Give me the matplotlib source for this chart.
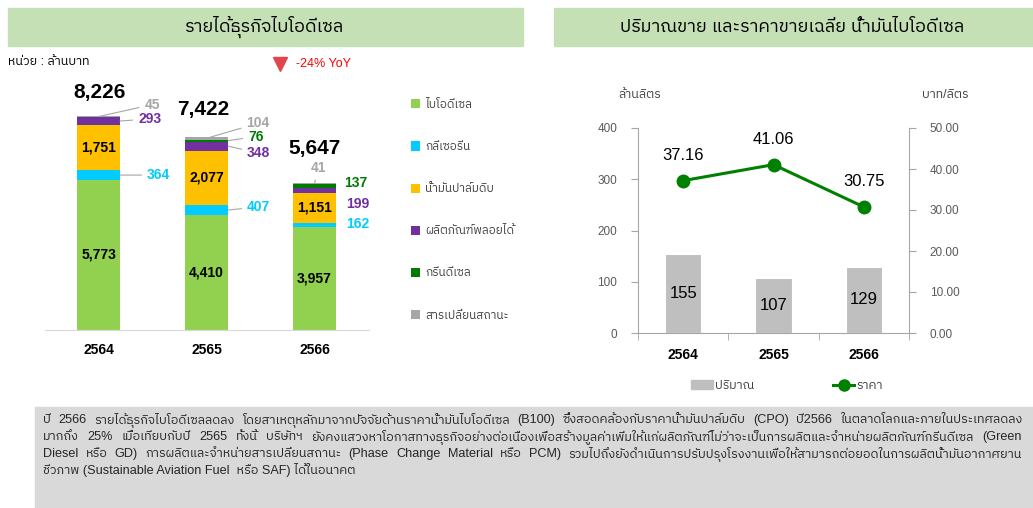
import matplotlib
matplotlib.use('Agg')
import matplotlib.pyplot as plt
from matplotlib import font_manager
from matplotlib.ft2font import FT2Font
from matplotlib.patches import Rectangle, Patch
from matplotlib.lines import Line2D
import numpy as np

W, H = 1033, 508

# ---- data ----
years = ['2564', '2565', '2566']
series_names = ['ไบโอดีเซล', 'กลีเซอรีน', 'น้ำมันปาล์มดิบ', 'ผลิตภัณฑ์พลอยได้', 'กรีนดีเซล', 'สารเปลี่ยนสถานะ']
series_colors = ['#92D050', '#00CCFF', '#FFC000', '#7030A0', '#007A00', '#A6A6A6']
biodiesel = [5773, 4410, 3957]
glycerin = [364, 407, 162]
palm_oil = [1751, 2077, 1151]
byproduct = [293, 348, 199]
green_diesel = [0, 76, 137]
pcm = [45, 104, 41]
totals = [8226, 7422, 5647]

volume = [155, 107, 129]
price = [37.16, 41.06, 30.75]

note_lines = [
    'ปี 2566 รายได้ธุรกิจไบโอดีเซลลดลง โดยสาเหตุหลักมาจากปัจจัยด้านราคาน้ำมันไบโอดีเซล (B100) ซึ่งสอดคล้องกับราคาน้ำมันปาล์มดิบ (CPO) ปี2566 ในตลาดโลกและภายในประเทศลดลง',
    'มากถึง 25% เมื่อเทียบกับปี 2565 ทั้งนี้ บริษัทฯ ยังคงแสวงหาโอกาสทางธุรกิจอย่างต่อเนื่องเพื่อสร้างมูลค่าเพิ่มให้แก่ผลิตภัณฑ์ไม่ว่าจะเป็นการผลิตและจำหน่ายผลิตภัณฑ์กรีนดีเซล (Green',
    'Diesel หรือ GD) การผลิตและจำหน่ายสารเปลี่ยนสถานะ (Phase Change Material หรือ PCM) รวมไปถึงยังดำเนินการปรับปรุงโรงงานเพื่อให้สามารถต่อยอดในการผลิตน้ำมันอากาศยาน',
    'ชีวภาพ (Sustainable Aviation Fuel  หรือ SAF) ได้ในอนาคต',
]


# find an installed family that has Thai glyphs
def find_thai_family():
    fonts = sorted(font_manager.fontManager.ttflist, key=lambda f: 'Thai' not in f.name)
    for f in fonts:
        if 'CJK' in f.name:
            continue
        try:
            cmap = FT2Font(f.fname).get_charmap()
        except Exception:
            continue
        if 0x0E01 in cmap and 0x0E49 in cmap:
            return f.name
    return None


thai = find_thai_family()
families = ['Liberation Sans'] + ([thai] if thai else []) + ['DejaVu Sans']
plt.rcParams['font.family'] = families

fig = plt.figure(figsize=(W / 100, H / 100), dpi=100)


def fx(px):
    return px / W


def fy(py):
    return 1 - py / H


# title bands and note box
fig.add_artist(Rectangle((fx(8), fy(46)), fx(515), 38 / H, transform=fig.transFigure,
                         color='#C5E0B4', zorder=0))
fig.add_artist(Rectangle((fx(554), fy(46)), fx(479), 38 / H, transform=fig.transFigure,
                         color='#C5E0B4', zorder=0))
fig.add_artist(Rectangle((fx(35), 0), fx(998), 101 / H, transform=fig.transFigure,
                         color='#D9D9D9', zorder=0))
fig.text(fx(265), fy(27), 'รายได้ธุรกิจไบโอดีเซล', ha='center', va='center', fontsize=13)
fig.text(fx(792), fy(27), 'ปริมาณขาย และราคาขายเฉลี่ย น้ำมันไบโอดีเซล', ha='center', va='center', fontsize=13)

fig.text(fx(8), fy(62), 'หน่วย : ล้านบาท', ha='left', va='center', fontsize=9)
fig.add_artist(Line2D([fx(280)], [fy(64)], marker='v', ms=10, color='#E0474C',
                      transform=fig.transFigure, linestyle='none'))
fig.text(fx(296), fy(64), '-24% YoY', ha='left', va='center', fontsize=9, color='#FF0000')

# ---- left: stacked bars ----
ax1 = fig.add_axes([fx(44.5), fy(330), fx(324), 250 / H])
x = np.arange(len(years))
bw = 0.4
stack = [biodiesel, glycerin, palm_oil, byproduct, green_diesel, pcm]
bottom = np.zeros(len(years))
bottoms = []
handles = []
for vals, name, col in zip(stack, series_names, series_colors):
    bottoms.append(bottom.copy())
    b = ax1.bar(x, vals, bw, bottom=bottom, color=col, linewidth=0, label=name)
    handles.append(b)
    bottom += np.array(vals)

ax1.set_xlim(-0.5, 2.5)
ax1.set_ylim(0, 9610)
ax1.set_yticks([])
for s in ['top', 'left', 'right']:
    ax1.spines[s].set_visible(False)
ax1.spines['bottom'].set_color('#D9D9D9')
ax1.set_xticks(x, years, fontweight='bold', fontsize=10)
ax1.tick_params(axis='x', length=0, pad=9)

# values inside the bars
for k in [0, 2]:
    for i in range(3):
        v = stack[k][i]
        ax1.text(x[i], bottoms[k][i] + v / 2, f'{v:,}', ha='center', va='center',
                 fontsize=10, fontweight='bold', color='black')

# outside labels: (series, year, dx px, dy px, from centre?, leader?, ha)
outside = [
    (1, 0, 27, 0, False, True, 'left'),
    (3, 0, 18, -2, False, True, 'left'),
    (5, 0, 46, -12, True, True, 'left'),
    (1, 1, 19, -3, False, True, 'left'),
    (3, 1, 19, 7, False, True, 'left'),
    (4, 1, 20, -4, False, True, 'left'),
    (5, 1, 40, -15, True, True, 'left'),
    (1, 2, 10, -1, False, False, 'left'),
    (3, 2, 10, 14, False, False, 'left'),
    (4, 2, 8, -3, False, False, 'left'),
    (5, 2, 4, -16, True, True, 'center'),
]
for k, i, dx, dy, centre, leader, ha in outside:
    v = stack[k][i]
    ax_x = x[i] if centre else x[i] + bw / 2
    ax_y = bottoms[k][i] + v / 2
    ap = dict(arrowstyle='-', color='#A6A6A6', lw=0.8, shrinkA=2, shrinkB=0) if leader else None
    ax1.annotate(f'{v:,}', (ax_x, ax_y), xytext=(dx * 0.72, -dy * 0.72), textcoords='offset points',
                 ha=ha, va='center', fontsize=10, fontweight='bold', color=series_colors[k],
                 arrowprops=ap)

total_dy = [24, 27, 35]
total_dx = [1, -3, 0]
for i in range(3):
    ax1.annotate(f'{totals[i]:,}', (x[i], totals[i]), xytext=(total_dx[i] * 0.72, total_dy[i] * 0.72),
                 textcoords='offset points', ha='center', va='center', fontsize=15, fontweight='bold')

ax1.legend(handles, series_names, loc='upper left', bbox_to_anchor=(fx(411), fy(99)),
           bbox_transform=fig.transFigure, frameon=False, fontsize=8.5, handlelength=0.8,
           handleheight=0.8, handletextpad=0.4, labelspacing=2.55, borderpad=0, borderaxespad=0,
           labelcolor='#404040')

# ---- right: volume bars + price line ----
ax2 = fig.add_axes([fx(638), fy(333), fx(271), 205 / H])
ax2.bar(x, volume, bw, color='#BFBFBF', edgecolor='white', linewidth=0.8)
ax2.set_xlim(-0.5, 2.5)
ax2.set_ylim(0, 400)
ax2.set_yticks([0, 100, 200, 300, 400])
ax2.set_xticks(x, years, fontweight='bold', fontsize=10)
ax2.set_xticks([-0.5, 0.5, 1.5, 2.5], minor=True)
ax2.tick_params(axis='x', which='major', length=0, pad=11)
ax2.tick_params(axis='x', which='minor', length=5, color='#A6A6A6')
ax2.tick_params(axis='y', length=5, color='#A6A6A6', labelcolor='#595959', labelsize=8.5, pad=10)
ax2.spines['top'].set_visible(False)
ax2.spines['right'].set_visible(False)
for s in ['left', 'bottom']:
    ax2.spines[s].set_color('#A6A6A6')
for i in range(3):
    ax2.text(x[i], volume[i] / 2, str(volume[i]), ha='center', va='center', fontsize=12)

ax3 = ax2.twinx()
ax3.plot(x, price, color='#008000', lw=2.2, marker='o', ms=9)
ax3.set_ylim(0, 50)
ax3.set_yticks([0, 10, 20, 30, 40, 50], [f'{v:.2f}' for v in [0, 10, 20, 30, 40, 50]])
ax3.tick_params(axis='y', length=5, color='#A6A6A6', labelcolor='#595959', labelsize=8.5, pad=10)
for s in ['top', 'left', 'bottom']:
    ax3.spines[s].set_visible(False)
ax3.spines['right'].set_color('#A6A6A6')
for i in range(3):
    ax3.annotate(f'{price[i]:.2f}', (x[i], price[i]), xytext=(0, 18), textcoords='offset points',
                 ha='center', va='center', fontsize=12)

fig.text(fx(640), fy(95), 'ล้านลิตร', ha='center', va='center', fontsize=9, color='#404040')
fig.text(fx(945), fy(95), 'บาท/ลิตร', ha='center', va='center', fontsize=9, color='#404040')

leg_handles = [Patch(color='#BFBFBF'),
               Line2D([], [], color='#008000', lw=2.2, marker='o', ms=8)]
fig.legend(leg_handles, ['ปริมาณ', 'ราคา'], loc='center left', bbox_to_anchor=(fx(680), fy(386)),
           ncol=2, frameon=False, fontsize=9, handlelength=1.7, handletextpad=0.2,
           columnspacing=6.3, labelcolor='#404040')

# ---- note paragraph, justified ----
renderer = fig.canvas.get_renderer()
x0, x1 = 43, 1022
note_y = [420, 437, 454, 470]
size = 9.5
widest = 0
for line in note_lines[:-1]:
    t = fig.text(0, 0, line, fontsize=size)
    widest = max(widest, t.get_window_extent(renderer).width)
    t.remove()
if widest > (x1 - x0):
    size = size * (x1 - x0) / widest * 0.97

for n, (line, y) in enumerate(zip(note_lines, note_y)):
    if n == len(note_lines) - 1:
        fig.text(fx(x0), fy(y), line, fontsize=size, va='center', color='#262626')
        continue
    words = line.split(' ')
    texts = [fig.text(0, fy(y), w, fontsize=size, va='center', color='#262626') for w in words]
    widths = [t.get_window_extent(renderer).width for t in texts]
    gap = (x1 - x0 - sum(widths)) / (len(words) - 1)
    pos = x0
    for t, w in zip(texts, widths):
        t.set_x(fx(pos))
        pos += w + gap

fig.savefig('out.png', dpi=100)
